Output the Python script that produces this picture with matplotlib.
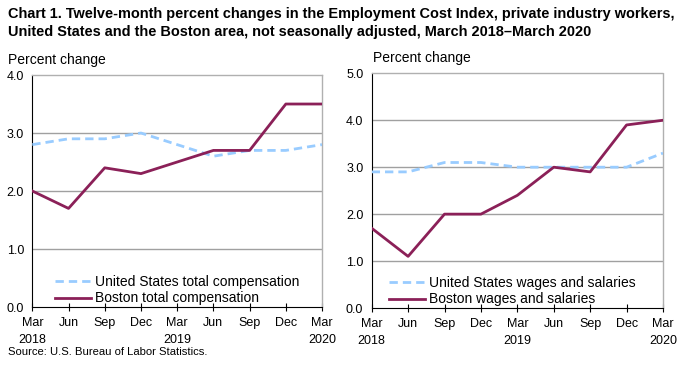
import matplotlib
matplotlib.use("Agg")
import matplotlib.pyplot as plt

plt.rcParams['font.family'] = ['Liberation Sans', 'DejaVu Sans']

periods = ["Mar\n2018", "Jun", "Sep", "Dec", "Mar\n2019", "Jun", "Sep", "Dec", "Mar\n2020"]
us_total_comp = [2.8, 2.9, 2.9, 3.0, 2.8, 2.6, 2.7, 2.7, 2.8]
boston_total_comp = [2.0, 1.7, 2.4, 2.3, 2.5, 2.7, 2.7, 3.5, 3.5]
us_wages = [2.9, 2.9, 3.1, 3.1, 3.0, 3.0, 3.0, 3.0, 3.3]
boston_wages = [1.7, 1.1, 2.0, 2.0, 2.4, 3.0, 2.9, 3.9, 4.0]

left_yticks = [0.0, 1.0, 2.0, 3.0, 4.0]
right_yticks = [0.0, 1.0, 2.0, 3.0, 4.0, 5.0]

US_COLOR = "#99CCFF"
BOS_COLOR = "#8B2058"

fig = plt.figure(figsize=(6.79, 3.69), dpi=100)

fig.text(0.012, 1 - 14 / 369, "Chart 1. Twelve-month percent changes in the Employment Cost Index, private industry workers,",
         ha="left", va="center", fontsize=10.45, fontweight="bold")
fig.text(0.012, 1 - 32 / 369, "United States and the Boston area, not seasonally adjusted, March 2018\u2013March 2020",
         ha="left", va="center", fontsize=10.45, fontweight="bold")


def panel(rect, us, bos, yticks, us_label, bos_label, legend_anchor):
    ax = fig.add_axes(rect)
    x = list(range(len(periods)))
    ax.plot(x, us, color=US_COLOR, lw=2, dashes=(3, 1.8), label=us_label, zorder=3)
    ax.plot(x, bos, color=BOS_COLOR, lw=2, label=bos_label, zorder=4)
    ax.set_xlim(0, len(periods) - 1)
    ax.set_ylim(yticks[0], yticks[-1])
    ax.set_yticks(yticks)
    ax.set_yticklabels([f"{v:.1f}" for v in yticks], fontsize=9)
    ax.set_xticks(x)
    ax.set_xticklabels(periods, fontsize=9, linespacing=1.55)
    ax.tick_params(axis="y", length=0, pad=6)
    ax.tick_params(axis="x", direction="inout", length=6, width=0.8, pad=4.5)
    for v in yticks[1:-1]:
        ax.axhline(v, color="#A0A0A0", lw=1, zorder=1)
    for s in ("top", "right"):
        ax.spines[s].set_color("#B0B0B0")
        ax.spines[s].set_linestyle((0, (1, 1)))
        ax.spines[s].set_linewidth(1)
    for s in ("left", "bottom"):
        ax.spines[s].set_color("black")
        ax.spines[s].set_linewidth(0.8)
    ax.legend(loc="lower left", bbox_to_anchor=legend_anchor, frameon=False,
              fontsize=10, handlelength=2.6, handletextpad=0.3, labelspacing=0.15,
              borderaxespad=0, borderpad=0)
    return ax


ax1 = panel([0.0476, 0.168, 0.4267, 0.6287], us_total_comp, boston_total_comp, left_yticks,
            "United States total compensation", "Boston total compensation", (0.078, 0.007))
ax2 = panel([0.5474, 0.1653, 0.429, 0.636], us_wages, boston_wages, right_yticks,
            "United States wages and salaries", "Boston wages and salaries", (0.06, 0.007))

fig.text(0.012, 1 - 60 / 369, "Percent change", fontsize=10, ha="left", va="center")
fig.text(0.549, 1 - 58 / 369, "Percent change", fontsize=10, ha="left", va="center")
fig.text(0.012, 1 - 352 / 369, "Source: U.S. Bureau of Labor Statistics.", fontsize=8.1, ha="left", va="center")

fig.savefig("out.png", dpi=100)
